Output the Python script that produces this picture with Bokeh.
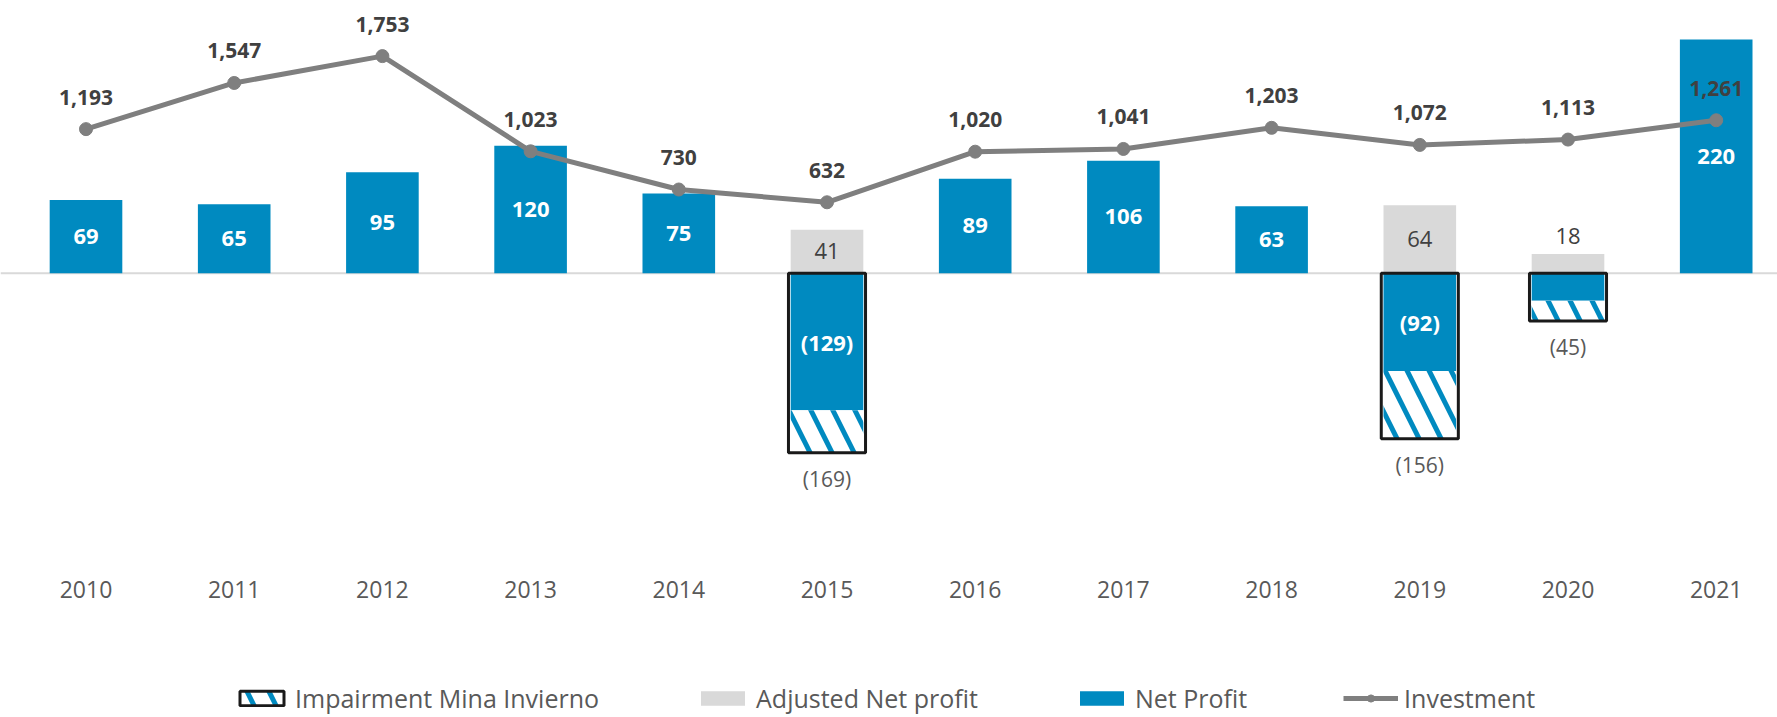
from bokeh.plotting import figure
from bokeh.models import (Range1d, LinearAxis, FixedTicker, NumeralTickFormatter, Span,
                          Legend, LegendItem, ColumnDataSource)
from bokeh.core.properties import value
from bokeh.embed import file_html
from bokeh.resources import INLINE

# ---------------- data ----------------
years = [2010, 2011, 2012, 2013, 2014, 2015, 2016, 2017, 2018, 2019, 2020, 2021]
net_profit = [69, 65, 95, 120, 75, -129, 89, 106, 63, -92, -26, 220]
impairment_mina_invierno = [0, 0, 0, 0, 0, -40, 0, 0, 0, -64, -19, 0]
adjusted_net_profit = [0, 0, 0, 0, 0, 41, 0, 0, 0, 64, 18, 0]
investment = [1193, 1547, 1753, 1023, 730, 632, 1020, 1041, 1203, 1072, 1113, 1261]

# ---------------- style ----------------
BLUE = "#008AC0"
GRAY_BAR = "#D9D9D9"
LINE = "#7F7F7F"
DARK = "#404040"
MID = "#595959"
FONT = "Open Sans"

FRAME_W, FRAME_H = 1777, 717
ZERO_PX, PX_PER_UNIT = 272.7, 1.062           # primary axis layout (px from frame top)
INV_ZERO_PX, INV_PX_PER_UNIT = 284.2, 0.1304  # investment axis layout
X0_PX, X_STEP = 85.5, 148.2                   # first category centre / step in px
AXIS_PX = 574                                 # line the year labels hang from
LEGEND_POS = (234, 2)                         # legend bottom-left, px from frame bottom-left
BAR_W = 0.49


def fmt(v):
    return f"({abs(v):,})" if v < 0 else f"{v:,}"


x_start = years[0] - X0_PX / X_STEP
x_end = x_start + FRAME_W / X_STEP
y_top = ZERO_PX / PX_PER_UNIT
y_bottom = -(FRAME_H - ZERO_PX) / PX_PER_UNIT
inv_top = INV_ZERO_PX / INV_PX_PER_UNIT
inv_bottom = -(FRAME_H - INV_ZERO_PX) / INV_PX_PER_UNIT

p = figure(frame_width=FRAME_W, frame_height=FRAME_H,
           x_range=Range1d(x_start, x_end), y_range=Range1d(y_bottom, y_top),
           x_axis_type=None, y_axis_type=None,
           output_backend="svg", toolbar_location=None,
           min_border_left=0, min_border_right=0, min_border_top=0, min_border_bottom=0)
p.extra_y_ranges = {"inv": Range1d(inv_bottom, inv_top)}
p.outline_line_color = None
p.background_fill_color = "white"
p.border_fill_color = "white"
p.xgrid.visible = False
p.ygrid.visible = False

# zero line
p.add_layout(Span(location=0, dimension="width", line_color="#D9D9D9", line_width=2, level="underlay"))

# adjusted net profit (gray)
adj_idx = [i for i, v in enumerate(adjusted_net_profit) if v != 0]
adj_src = ColumnDataSource(dict(
    x=[years[i] for i in adj_idx],
    top=[adjusted_net_profit[i] for i in adj_idx]))
adj_r = p.vbar(x="x", top="top", bottom=0, width=BAR_W, source=adj_src,
               fill_color=GRAY_BAR, line_color=None)

# net profit (blue)
np_src = ColumnDataSource(dict(x=years, top=net_profit))
np_r = p.vbar(x="x", top="top", bottom=0, width=BAR_W, source=np_src,
              fill_color=BLUE, line_color=None)

# impairment (hatched)
imp_idx = [i for i, v in enumerate(impairment_mina_invierno) if v != 0]
imp_src = ColumnDataSource(dict(
    x=[years[i] for i in imp_idx],
    top=[net_profit[i] for i in imp_idx],
    bottom=[net_profit[i] + impairment_mina_invierno[i] for i in imp_idx],
    total=[fmt(net_profit[i] + impairment_mina_invierno[i]) for i in imp_idx]))
imp_r = p.vbar(x="x", top="top", bottom="bottom", width=BAR_W, source=imp_src,
               fill_color="white", line_color=None,
               hatch_pattern="\\", hatch_color=BLUE, hatch_weight=5, hatch_scale=44)
box_r = p.vbar(x="x", top=0, bottom="bottom", width=BAR_W + 0.03, source=imp_src,
               fill_color=None, line_color="#1A1A1A", line_width=3)

# investment line
inv_src = ColumnDataSource(dict(x=years, y=investment, label=[fmt(v) for v in investment]))
line_r = p.line(x="x", y="y", source=inv_src, y_range_name="inv", line_color=LINE, line_width=5)
dot_r = p.scatter(x="x", y="y", source=inv_src, y_range_name="inv", size=13,
                  fill_color=LINE, line_color=LINE)

# labels
np_lab_idx = [i for i, v in enumerate(net_profit) if abs(v) >= 40]
np_lab_src = ColumnDataSource(dict(
    x=[years[i] for i in np_lab_idx],
    y=[net_profit[i] / 2 for i in np_lab_idx],
    t=[fmt(net_profit[i]) for i in np_lab_idx]))
p.text(x="x", y="y", text="t", source=np_lab_src, text_color="white",
       text_font=value(FONT), text_font_style="bold", text_font_size="22px",
       text_align="center", text_baseline="middle")

adj_in = [i for i in adj_idx if adjusted_net_profit[i] >= 30]
adj_out = [i for i in adj_idx if adjusted_net_profit[i] < 30]
p.text(x=[years[i] for i in adj_in], y=[adjusted_net_profit[i] / 2 for i in adj_in],
       text=[fmt(adjusted_net_profit[i]) for i in adj_in], text_color=DARK,
       text_font=value(FONT), text_font_size="22px",
       text_align="center", text_baseline="middle")
p.text(x=[years[i] for i in adj_out], y=[adjusted_net_profit[i] for i in adj_out],
       text=[fmt(adjusted_net_profit[i]) for i in adj_out], text_color=DARK,
       text_font=value(FONT), text_font_size="22px",
       text_align="center", text_baseline="bottom", y_offset=-10)

p.text(x="x", y="bottom", text="total", source=imp_src, text_color=MID,
       text_font=value(FONT), text_font_size="21px",
       text_align="center", text_baseline="top", y_offset=12)

p.text(x="x", y="y", text="label", source=inv_src, y_range_name="inv", text_color=DARK,
       text_font=value(FONT), text_font_style="bold", text_font_size="21px",
       text_align="center", text_baseline="middle", y_offset=-32)

# year axis, drawn inside the frame
xaxis = LinearAxis(ticker=FixedTicker(ticks=years), formatter=NumeralTickFormatter(format="0"),
                   fixed_location=-(AXIS_PX - ZERO_PX) / PX_PER_UNIT,
                   axis_line_color=None, major_tick_line_color=None, minor_tick_line_color=None,
                   major_tick_in=0, major_tick_out=0, minor_tick_in=0, minor_tick_out=0,
                   major_label_standoff=6, major_label_text_font=FONT,
                   major_label_text_font_size="23px", major_label_text_color=MID)
p.add_layout(xaxis, "below")

legend = Legend(items=[
    LegendItem(label="Impairment Mina Invierno", renderers=[imp_r, box_r]),
    LegendItem(label="Adjusted Net profit", renderers=[adj_r]),
    LegendItem(label="Net Profit", renderers=[np_r]),
    LegendItem(label="Investment", renderers=[line_r, dot_r]),
], orientation="horizontal", location=LEGEND_POS, glyph_width=55, glyph_height=18,
    label_standoff=6, spacing=96, padding=0, margin=0,
    border_line_color=None, background_fill_alpha=0,
    label_text_font=FONT, label_text_font_size="25px", label_text_color=MID)
p.add_layout(legend, "center")

open("out.html", "w").write(file_html(p, INLINE))
